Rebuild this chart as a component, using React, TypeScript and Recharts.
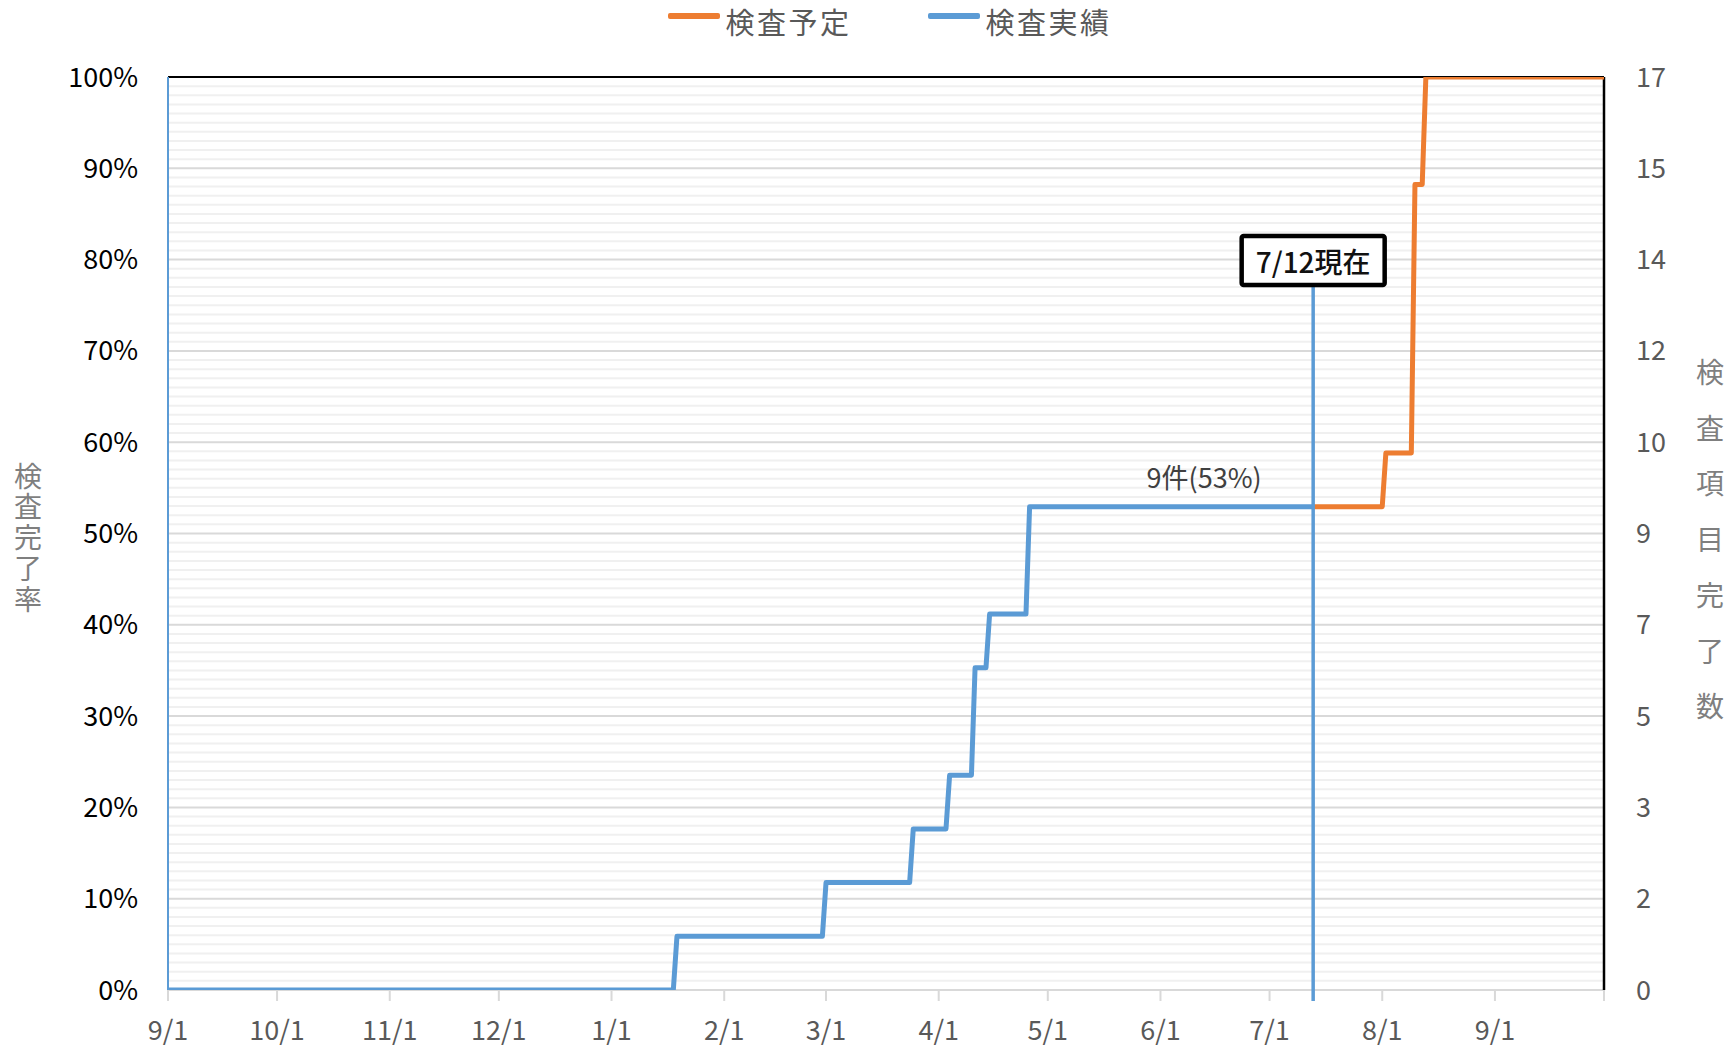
import { LineChart, Line, XAxis, YAxis, CartesianGrid, ReferenceLine, ReferenceDot } from 'recharts';

const FONT = '"Noto Sans CJK JP", "Noto Sans", sans-serif';
const BLUE = '#5b9bd5';
const ORANGE = '#ed7d31';

const day = (s: string) => Date.parse(s + 'T00:00:00Z');

// axis range and month ticks
const AXIS_START = '2018-09-01';
const AXIS_END = '2019-10-01';
const MONTH_TICKS = [
  '2018-09-01', '2018-10-01', '2018-11-01', '2018-12-01', '2019-01-01', '2019-02-01', '2019-03-01',
  '2019-04-01', '2019-05-01', '2019-06-01', '2019-07-01', '2019-08-01', '2019-09-01', '2019-10-01',
];

// 検査実績 (completed items, cumulative)
const ACTUAL_DATES = [
  '2018-09-01', '2019-01-18', '2019-01-19', '2019-02-28', '2019-03-01', '2019-03-24', '2019-03-25',
  '2019-04-03', '2019-04-04', '2019-04-10', '2019-04-11', '2019-04-14', '2019-04-15', '2019-04-25',
  '2019-04-26', '2019-07-13',
];
const ACTUAL_COUNTS = [0, 0, 1, 1, 2, 2, 3, 3, 4, 4, 6, 6, 7, 7, 9, 9];

// 検査予定 (planned items, cumulative)
const PLAN_DATES = [
  '2019-07-13', '2019-08-01', '2019-08-02', '2019-08-09', '2019-08-10', '2019-08-12', '2019-08-13', '2019-10-01',
];
const PLAN_COUNTS = [9, 9, 10, 10, 15, 15, 17, 17];

const TOTAL_ITEMS = 17;
const PCT_TICKS = [0, 0.1, 0.2, 0.3, 0.4, 0.5, 0.6, 0.7, 0.8, 0.9, 1];
const COUNT_TICKS = PCT_TICKS.map((p) => p * TOTAL_ITEMS);
const MINOR_PCT = Array.from({ length: 101 }, (_, i) => i).filter((i) => i % 10 !== 0).map((i) => i / 100);

const NOW_DATE = '2019-07-13';
const NOW_LABEL = '7/12現在';
const NOW_LINE_TOP = 0.771;
const RESULT_LABEL = '9件(53%)';
const RESULT_LABEL_DATE = '2019-06-13';
const RESULT_COUNT = 9;

const LEFT_TITLE = '検査完了率';
const RIGHT_TITLE = '検査項目完了数';

// actual is plotted as completion rate on the left axis, plan as item count on the right axis
const actualData = ACTUAL_DATES.map((d, i) => ({ t: day(d), v: ACTUAL_COUNTS[i] / TOTAL_ITEMS }));
const planData = PLAN_DATES.map((d, i) => ({ t: day(d), v: PLAN_COUNTS[i] }));

const fmtDate = (t: number) => {
  if (t >= day(AXIS_END)) return '';
  const dt = new Date(t);
  return `${dt.getUTCMonth() + 1}/${dt.getUTCDate()}`;
};

const VerticalTitle = ({ x, cy, text, spacing }: { x: number; cy: number; text: string; spacing: number }) => (
  <text x={x} y={cy + spacing / 2} textAnchor="middle" fontSize={28} fill="#7f7f7f" fontFamily={FONT}
    style={{ writingMode: 'vertical-rl', letterSpacing: spacing }}>{text}</text>
);

const LeftTitle = (props: any) => {
  const vb = props.viewBox;
  return <VerticalTitle x={vb.x - 40} cy={vb.y + vb.height / 2 + 4} text={LEFT_TITLE} spacing={2.8} />;
};

const RightTitle = (props: any) => {
  const vb = props.viewBox;
  return <VerticalTitle x={vb.x + 106} cy={vb.y + vb.height / 2 + 6} text={RIGHT_TITLE} spacing={27.7} />;
};

const NowLabel = (props: any) => {
  const vb = props.viewBox;
  const cx = vb.x + (vb.width || 0) / 2;
  const top = vb.y;
  return (
    <g>
      <rect x={cx - 71.5} y={top - 50} width={143} height={49} fill="#fff" stroke="#000" strokeWidth={4.5} rx={2} />
      <text x={cx} y={top - 25.5} textAnchor="middle" dominantBaseline="central" fontSize={28}
        fontWeight={500} fill="#111" fontFamily={FONT}>{NOW_LABEL}</text>
    </g>
  );
};

const ResultText = (props: any) => (
  <text x={props.cx} y={props.cy - 30} textAnchor="middle" dominantBaseline="central" fontSize={27}
    fill="#404040" fontFamily={FONT}>{RESULT_LABEL}</text>
);

const LegendItem = ({ left, color, label }: { left: number; color: string; label: string }) => (
  <>
    <div style={{ position: 'absolute', left, top: 13, width: 52, height: 5.5, background: color, borderRadius: 2 }} />
    <div style={{ position: 'absolute', left: left + 58, top: 0, fontSize: 29, lineHeight: 'normal', letterSpacing: 2.5,
      color: '#595959', fontFamily: FONT, whiteSpace: 'nowrap' }}>{label}</div>
  </>
);

export default function App() {
  return (
    <div style={{ position: 'absolute', left: 0, top: 0, width: 1736, height: 1050, background: '#fff' }}>
      <LineChart width={1736} height={1050} margin={{ top: 77, right: 32, bottom: 10, left: 68 }}
        style={{ fontFamily: FONT }}>
        <CartesianGrid yAxisId="pct" vertical={false} stroke="#d9d9d9" strokeWidth={2} />
        <XAxis type="number" dataKey="t" domain={[day(AXIS_START), day(AXIS_END)]} allowDataOverflow
          ticks={MONTH_TICKS.map(day)} tickFormatter={fmtDate} interval={0} height={50}
          tickSize={11} tickMargin={20} tick={{ fill: '#595959', fontSize: 27, fontFamily: FONT }}
          axisLine={{ stroke: '#d9d9d9', strokeWidth: 2 }} tickLine={{ stroke: '#d9d9d9', strokeWidth: 2 }} />
        <YAxis yAxisId="pct" domain={[0, 1]} ticks={PCT_TICKS} interval={0} width={100} allowDataOverflow
          tickFormatter={(p: number) => `${Math.round(p * 100)}%`} tickSize={0} tickMargin={30}
          tick={{ fill: '#000', fontSize: 27, fontFamily: FONT }} tickLine={false}
          axisLine={{ stroke: BLUE, strokeWidth: 2 }} label={LeftTitle} />
        <YAxis yAxisId="cnt" orientation="right" domain={[0, TOTAL_ITEMS]} ticks={COUNT_TICKS} interval={0} width={100}
          allowDataOverflow tickFormatter={(v: number) => String(Math.round(v))} tickSize={0} tickMargin={32}
          tick={{ fill: '#595959', fontSize: 27, fontFamily: FONT }} tickLine={false}
          axisLine={{ stroke: '#000', strokeWidth: 2.5 }} label={RightTitle} />
        {MINOR_PCT.map((v) => (
          <ReferenceLine key={v} yAxisId="pct" y={v} stroke="#f0f0f0" strokeWidth={2} zIndex={-90} />
        ))}
        <ReferenceLine yAxisId="pct" y={1} stroke="#000" strokeWidth={2} zIndex={-80} />
        <Line data={planData} dataKey="v" yAxisId="cnt" type="linear" stroke={ORANGE} strokeWidth={5}
          strokeLinejoin="round" dot={false} activeDot={false} isAnimationActive={false} zIndex={600} />
        <Line data={actualData} dataKey="v" yAxisId="pct" type="linear" stroke={BLUE} strokeWidth={5}
          strokeLinejoin="round" dot={false} activeDot={false} isAnimationActive={false} zIndex={610} />
        <ReferenceLine yAxisId="pct" ifOverflow="visible" stroke={BLUE} strokeWidth={3.5} zIndex={700}
          segment={[{ x: day(NOW_DATE), y: -0.012 }, { x: day(NOW_DATE), y: NOW_LINE_TOP }]} label={NowLabel} />
        <ReferenceDot yAxisId="cnt" x={day(RESULT_LABEL_DATE)} y={RESULT_COUNT} r={1} shape={ResultText} zIndex={700} />
      </LineChart>
      <LegendItem left={667.6} color={ORANGE} label="検査予定" />
      <LegendItem left={927.6} color={BLUE} label="検査実績" />
    </div>
  );
}
